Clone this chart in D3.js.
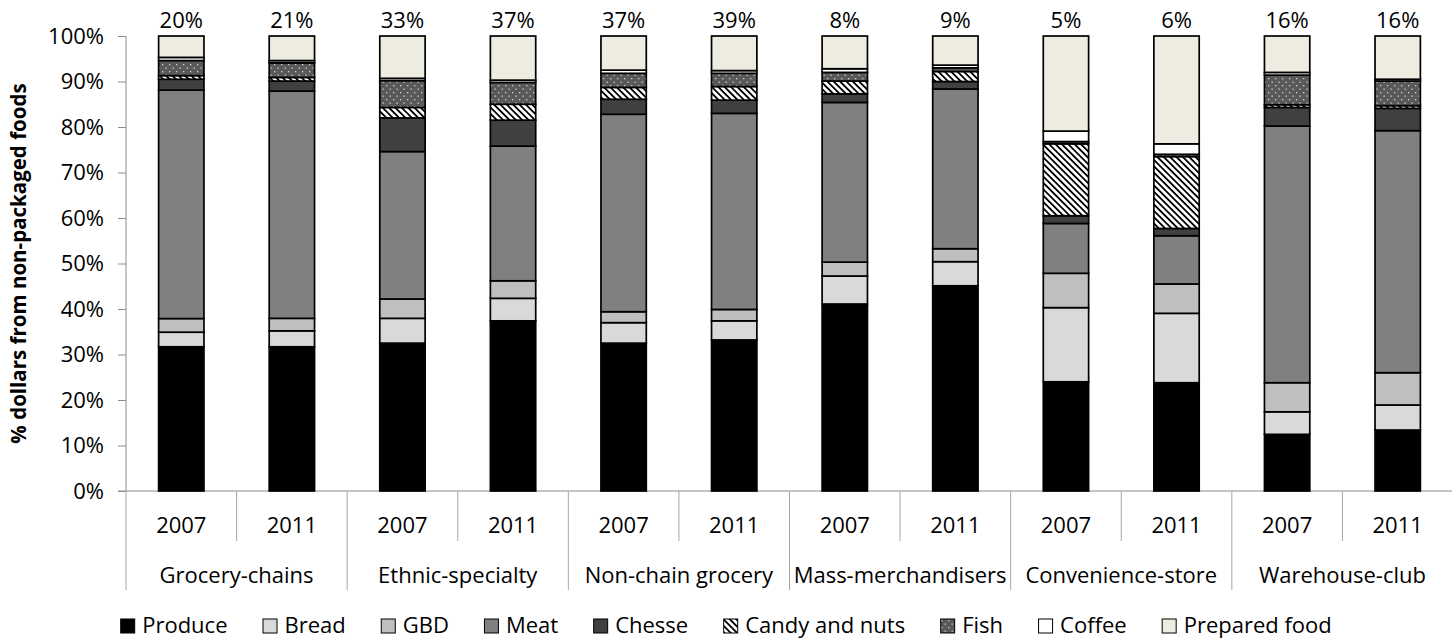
<!DOCTYPE html>
<html>
<head>
<meta charset="utf-8">
<script src="https://cdn.jsdelivr.net/npm/d3@7"></script>
<style>
  body { margin: 0; background: #fff; }
  text { font-family: "Open Sans", sans-serif; fill: #000; }
</style>
</head>
<body>
<div id="chart"></div>
<script>
// data (% of dollars, stacked bottom to top)
var groups = ['Grocery-chains', 'Ethnic-specialty', 'Non-chain grocery', 'Mass-merchandisers', 'Convenience-store', 'Warehouse-club'];
var years = ['2007', '2011'];
var seriesNames = ['Produce', 'Bread', 'GBD', 'Meat', 'Chesse', 'Candy and nuts', 'Fish', 'Coffee', 'Prepared food'];

var produce  = [31.7, 31.7, 32.5, 37.4, 32.5, 33.2, 41.1, 45.1, 24.0, 23.8, 12.45, 13.4];
var bread    = [3.2, 3.5, 5.45, 4.95, 4.5, 4.2, 6.15, 5.3, 16.3, 15.25, 4.95, 5.5];
var gbd      = [3.0, 2.75, 4.25, 3.85, 2.4, 2.5, 3.05, 2.85, 7.55, 6.45, 6.4, 7.1];
var meat     = [50.2, 49.95, 32.4, 29.6, 43.4, 43.1, 35.1, 35.1, 10.95, 10.6, 56.4, 53.2];
var chesse   = [2.4, 2.2, 7.4, 5.7, 3.3, 2.9, 1.9, 1.65, 1.7, 1.6, 4.1, 4.9];
var candy    = [0.8, 0.8, 2.3, 3.5, 2.6, 3.0, 2.8, 2.2, 15.8, 15.8, 0.6, 0.6];
var fish     = [3.3, 3.2, 5.9, 4.8, 3.1, 2.9, 1.9, 0.8, 0.5, 0.5, 6.5, 5.4];
var coffee   = [0.7, 0.5, 0.5, 0.5, 0.7, 0.6, 0.8, 0.6, 2.3, 2.3, 0.6, 0.4];
var prepared = [4.7, 5.4, 9.3, 9.7, 7.5, 7.6, 7.2, 6.4, 20.9, 23.7, 8.0, 9.5];

var topLabels = ['20%', '21%', '33%', '37%', '37%', '39%', '8%', '9%', '5%', '6%', '16%', '16%'];
var yTicks = [0, 10, 20, 30, 40, 50, 60, 70, 80, 90, 100];

var w = 1452;
var h = 640;
// plot edges (not named top/left: window.top is read-only)
var pL = 126, pR = 1453, pT = 36, pB = 491;

var cols = [produce, bread, gbd, meat, chesse, candy, fish, coffee, prepared];
var rows = d3.range(produce.length).map(function(i) {
  var r = { i: i };
  seriesNames.forEach(function(s, k) { r[s] = cols[k][i]; });
  return r;
});

var svg = d3.select('#chart').append('svg')
  .attr('width', w)
  .attr('height', h);

var defs = svg.append('defs');

// candy and nuts: white with black diagonal stripes
var hatch = defs.append('pattern')
  .attr('id', 'hatch')
  .attr('patternUnits', 'userSpaceOnUse')
  .attr('width', 4.5)
  .attr('height', 4.5)
  .attr('patternTransform', 'rotate(-45)');
hatch.append('rect').attr('width', 4.5).attr('height', 4.5).attr('fill', '#fff');
hatch.append('rect').attr('x', 0).attr('width', 1.8).attr('height', 4.5).attr('fill', '#000');

// fish: dark grey with white dots
var dots = defs.append('pattern')
  .attr('id', 'dots')
  .attr('patternUnits', 'userSpaceOnUse')
  .attr('width', 7)
  .attr('height', 7);
dots.append('rect').attr('width', 7).attr('height', 7).attr('fill', '#595959');
dots.append('rect').attr('x', 1).attr('y', 1).attr('width', 1.3).attr('height', 1.3).attr('fill', '#d0d0d0');
dots.append('rect').attr('x', 4.5).attr('y', 4.5).attr('width', 1.3).attr('height', 1.3).attr('fill', '#d0d0d0');

var fills = ['#000000', '#d9d9d9', '#bfbfbf', '#808080', '#404040', 'url(#hatch)', 'url(#dots)', '#ffffff', '#eeece1'];
var color = d3.scaleOrdinal().domain(seriesNames).range(fills);

var x = d3.scaleBand()
  .domain(d3.range(rows.length))
  .range([pL, pR])
  .paddingInner(0.59)
  .paddingOuter(0.295);

var y = d3.scaleLinear().domain([0, 100]).range([pB, pT]);

var stacked = d3.stack().keys(seriesNames)(rows);

// y axis
var yAxis = svg.append('g')
  .attr('transform', 'translate(' + pL + ',0)')
  .call(d3.axisLeft(y).tickValues(yTicks).tickFormat(function(d) { return d + '%'; }).tickSize(8).tickPadding(14));
yAxis.select('.domain').attr('stroke', '#8c8c8c').attr('d', 'M0,' + pT + 'V' + pB);
yAxis.selectAll('.tick line').attr('stroke', '#8c8c8c');
yAxis.selectAll('.tick text').attr('font-size', 22).attr('font-family', '"Open Sans", sans-serif').attr('fill', '#000');

// category axis with separators
var step = x.step();
svg.append('line')
  .attr('x1', pL - 8).attr('x2', pR)
  .attr('y1', pB).attr('y2', pB)
  .attr('stroke', '#8c8c8c');
svg.selectAll('.sep')
  .data(d3.range(rows.length + 1))
  .enter().append('line')
  .attr('x1', function(i) { return pL + i * step; })
  .attr('x2', function(i) { return pL + i * step; })
  .attr('y1', pB)
  .attr('y2', function(i) { return i % 2 ? 541 : 590; })
  .attr('stroke', '#a6a6a6');

svg.selectAll('.year')
  .data(rows)
  .enter().append('text')
  .attr('x', function(d) { return x(d.i) + x.bandwidth() / 2; })
  .attr('y', 533)
  .attr('text-anchor', 'middle')
  .attr('font-size', 22)
  .text(function(d) { return years[d.i % 2]; });

svg.selectAll('.group')
  .data(groups)
  .enter().append('text')
  .attr('x', function(d, k) { return pL + (k * 2 + 1) * step; })
  .attr('y', 583)
  .attr('text-anchor', 'middle')
  .attr('font-size', 22)
  .text(function(d) { return d; });

// stacked bars
svg.append('g').selectAll('g')
  .data(stacked)
  .enter().append('g')
  .attr('fill', function(d) { return color(d.key); })
  .selectAll('rect')
  .data(function(d) { return d; })
  .enter().append('rect')
  .attr('x', function(d) { return x(d.data.i); })
  .attr('y', function(d) { return y(d[1]); })
  .attr('width', x.bandwidth())
  .attr('height', function(d) { return y(d[0]) - y(d[1]); })
  .attr('stroke', '#000')
  .attr('stroke-width', 1.7);

// labels above bars
svg.selectAll('.top')
  .data(rows)
  .enter().append('text')
  .attr('x', function(d) { return x(d.i) + x.bandwidth() / 2; })
  .attr('y', 28)
  .attr('text-anchor', 'middle')
  .attr('font-size', 22)
  .text(function(d) { return topLabels[d.i]; });

// y title
svg.append('text')
  .attr('transform', 'translate(26,' + (pT + pB) / 2 + ') rotate(-90)')
  .attr('text-anchor', 'middle')
  .attr('font-size', 20.5)
  .attr('font-weight', 'bold')
  .text('% dollars from non-packaged foods');

// legend
var lg = svg.append('g');
var lx = 0;
seriesNames.forEach(function(s) {
  var item = lg.append('g').attr('transform', 'translate(' + lx + ',0)');
  item.append('rect')
    .attr('x', 0.5).attr('y', -14)
    .attr('width', 14).attr('height', 14)
    .attr('fill', color(s))
    .attr('stroke', '#000')
    .attr('stroke-width', 1);
  var t = item.append('text')
    .attr('x', 22)
    .attr('y', 0)
    .attr('font-size', 22)
    .text(s);
  lx += 22 + t.node().getComputedTextLength() + 35;
});
lx -= 35;
lg.attr('transform', 'translate(' + (w / 2 - lx / 2) + ',633)');
</script>
</body>
</html>
